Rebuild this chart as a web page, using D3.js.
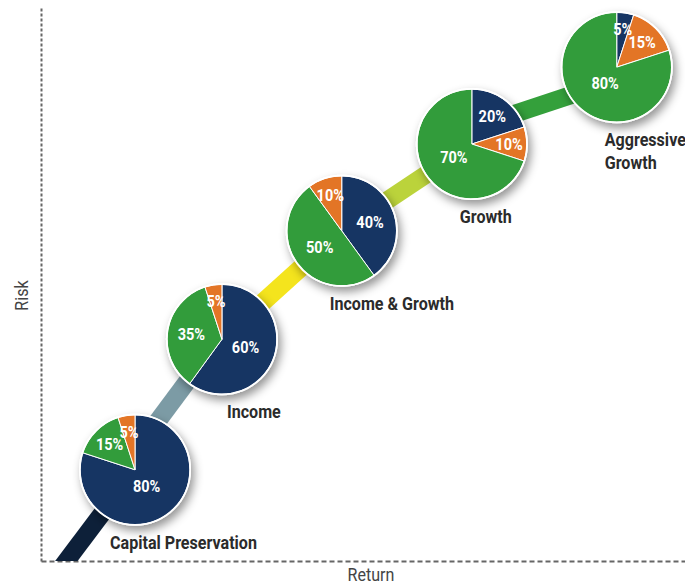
<!DOCTYPE html>
<html>
<head>
<meta charset="utf-8">
<script src="https://cdn.jsdelivr.net/npm/d3@7"></script>
<style>
  html, body { margin: 0; padding: 0; background: #fff; }
  svg { display: block; }
  text { font-family: Roboto, "Liberation Sans", "DejaVu Sans", sans-serif; }
</style>
</head>
<body>
<svg id="chart" width="685" height="584"></svg>
<script>
// Portfolio styles, from lowest to highest risk/return
const portfolios = ["Capital Preservation", "Income", "Income & Growth", "Growth", "Aggressive Growth"];
// Position of each portfolio on the return (x) and risk (y) axes, 0-100
const returnLevel = [14.6, 28.1, 46.7, 66.9, 89.4];
const riskLevel   = [16.5, 40.1, 59.7, 75.4, 89.3];
// Allocation shares (%) for the three asset classes
const blueShare   = [80, 60, 40, 20, 5];
const greenShare  = [15, 35, 50, 70, 80];
const orangeShare = [5, 5, 10, 10, 15];
// Clockwise slice order in each pie, starting at 12 o'clock
const sliceOrder = [
  ["blue", "green", "orange"],
  ["blue", "green", "orange"],
  ["blue", "green", "orange"],
  ["blue", "orange", "green"],
  ["blue", "orange", "green"]
];
// Risk path: start/end points (return, risk) of each coloured stretch
const pathStart = [[2.0, -3.0], [12.7, 16.8], [28.1, 40.1], [46.7, 59.7], [68.2, 78.8]];
const pathEnd   = [[14.6, 16.5], [27.5, 40.0], [46.7, 59.7], [66.9, 75.4], [88.4, 86.6]];
const axisTitles = ["Return", "Risk"];

const colors = { blue: "#163463", green: "#329c3b", orange: "#e37428" };
const pathColors = ["#0d2039", "#7c9ba5", "#f4e41d", "#bbd33b", "#34a03b"];
// Label offsets from the pie centre (left edge of text, baseline)
const labelDx = [-25, 5, -12, -12, -12];
const labelDy = 79;

const svg = d3.select("#chart");
const x = d3.scaleLinear().domain([0, 100]).range([41, 685]);
const y = d3.scaleLinear().domain([0, 100]).range([561, 8]);
const R = 55;

const defs = svg.append("defs");
const shadow = defs.append("filter").attr("id", "pieShadow")
  .attr("x", "-30%").attr("y", "-30%").attr("width", "170%").attr("height", "170%");
shadow.append("feDropShadow")
  .attr("dx", 3).attr("dy", 5).attr("stdDeviation", 5)
  .attr("flood-color", "#000").attr("flood-opacity", 0.42);
defs.append("clipPath").attr("id", "plotClip")
  .append("rect").attr("x", x(0)).attr("y", 0)
  .attr("width", x(100) - x(0)).attr("height", y(0));

// Axes: dashed domain lines only
const xAxis = svg.append("g").attr("transform", `translate(0,${y(0)})`)
  .call(d3.axisBottom(x).ticks(0).tickSize(0).tickSizeOuter(0));
const yAxis = svg.append("g").attr("transform", `translate(${x(0)},0)`)
  .call(d3.axisLeft(y).ticks(0).tickSize(0).tickSizeOuter(0));
xAxis.select(".domain").attr("stroke", "#666").attr("stroke-width", 2).attr("stroke-dasharray", "5,3");
yAxis.select(".domain").attr("stroke", "#666").attr("stroke-width", 2).attr("stroke-dasharray", "3,2");

svg.append("g").attr("transform", `translate(${(x(0) + x(100)) / 2 + 8},581) scale(0.92,1)`)
  .append("text").attr("text-anchor", "middle").attr("font-size", 17.5).attr("fill", "#444")
  .text(axisTitles[0]);
svg.append("g").attr("transform", `translate(28,${(y(0) + y(100)) / 2 + 11}) rotate(-90) scale(0.92,1)`)
  .append("text").attr("text-anchor", "middle").attr("font-size", 17.5).attr("fill", "#444")
  .text(axisTitles[1]);

// Risk path drawn as thick coloured stretches
svg.append("g").attr("clip-path", "url(#plotClip)")
  .selectAll("line").data(pathStart).join("line")
  .attr("x1", d => x(d[0])).attr("y1", d => y(d[1]))
  .attr("x2", (d, i) => x(pathEnd[i][0])).attr("y2", (d, i) => y(pathEnd[i][1]))
  .attr("stroke", (d, i) => pathColors[i])
  .attr("stroke-width", 18);

// Pies
const pie = d3.pie().sort(null).value(d => d.value);
const arc = d3.arc().innerRadius(0).outerRadius(R);
const shareOf = { blue: blueShare, green: greenShare, orange: orangeShare };

portfolios.forEach((name, i) => {
  const cx = x(returnLevel[i]), cy = y(riskLevel[i]);
  const slices = sliceOrder[i].map(k => ({ key: k, value: shareOf[k][i] }));
  const arcs = pie(slices);
  const g = svg.append("g").attr("transform", `translate(${cx},${cy})`);
  const body = g.append("g").attr("filter", "url(#pieShadow)");
  body.append("circle").attr("r", R + 1).attr("fill", "#fff");
  body.selectAll("path").data(arcs).join("path")
    .attr("d", arc)
    .attr("fill", d => colors[d.data.key])
    .attr("stroke", "#fff").attr("stroke-width", 1);
  g.append("circle").attr("r", R).attr("fill", "none")
    .attr("stroke", "#fff").attr("stroke-width", 1.5);

  // Percentage labels, closer to the centre for larger slices
  g.selectAll("g.lbl").data(arcs).join("g")
    .attr("class", "lbl")
    .attr("transform", d => {
      const a = (d.startAngle + d.endAngle) / 2;
      const r = 39.7 - 24.9 * d.value / 100;
      return `translate(${Math.sin(a) * r},${-Math.cos(a) * r}) scale(0.88,1)`;
    })
    .append("text")
    .attr("text-anchor", "middle").attr("dy", "0.36em")
    .attr("font-size", 16.5).attr("font-weight", "bold").attr("fill", "#fff")
    .text(d => d.value + "%");

  // Portfolio name under the pie
  const words = name === "Aggressive Growth" ? ["Aggressive", "Growth"] : [name];
  const t = svg.append("g")
    .attr("transform", `translate(${cx + labelDx[i]},${cy + labelDy}) scale(0.87,1)`)
    .append("text")
    .attr("font-size", 18.5).attr("font-weight", "bold").attr("fill", "#2b2b2b");
  words.forEach((w, j) => {
    t.append("tspan").attr("x", 0).attr("dy", j === 0 ? 0 : 23).text(w);
  });
});
</script>
</body>
</html>
